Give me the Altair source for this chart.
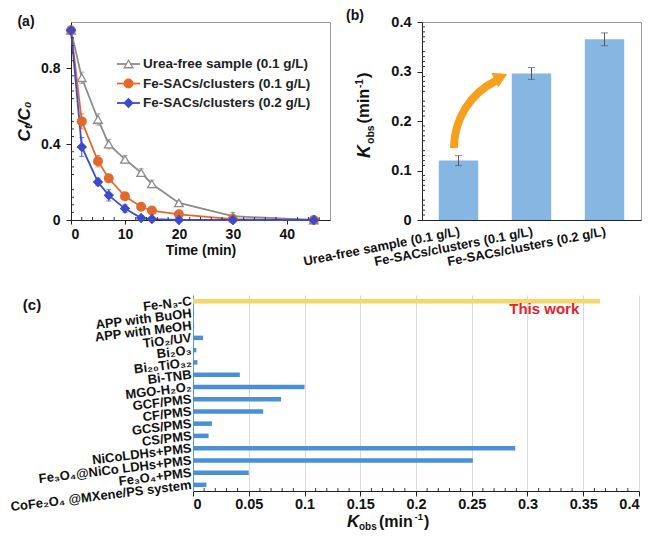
import altair as alt
import pandas as pd

FONT = "Liberation Sans"

# ---------------- data ----------------
# Panel (a): normalized concentration vs time
time_min = [0, 2, 5, 7, 10, 13, 15, 20, 30, 45]
series_names = ["Urea-free sample (0.1 g/L)", "Fe-SACs/clusters (0.1 g/L)", "Fe-SACs/clusters (0.2 g/L)"]
ct_urea = [1.0, 0.75, 0.53, 0.40, 0.32, 0.25, 0.19, 0.09, 0.02, 0.0]
ct_fe01 = [1.0, 0.52, 0.31, 0.22, 0.125, 0.07, 0.05, 0.03, 0.005, 0.0]
ct_fe02 = [1.0, 0.385, 0.20, 0.13, 0.06, 0.01, 0.005, 0.0, 0.0, 0.0]
err_urea = [0.01, 0.03, 0.03, 0.025, 0.02, 0.02, 0.02, 0.01, 0.02, 0.005]
err_fe01 = [0.01, 0.04, 0.03, 0.02, 0.02, 0.01, 0.01, 0.01, 0.005, 0.005]
err_fe02 = [0.01, 0.05, 0.02, 0.03, 0.02, 0.01, 0.005, 0.005, 0.005, 0.005]

# Panel (b): rate constants
kobs_samples = series_names
kobs_values = [0.12, 0.296, 0.365]
kobs_err = [0.01, 0.012, 0.013]

# Panel (c): comparison with literature
cmp_labels = ["Fe-N₃-C", "APP with BuOH", "APP with MeOH", "TiO₂/UV", "Bi₂O₃", "Bi₂₀TiO₃₂",
              "Bi-TNB", "MGO-H₂O₂", "GCF/PMS", "CF/PMS", "GCS/PMS", "CS/PMS",
              "NiCoLDHs+PMS", "Fe₃O₄@NiCo LDHs+PMS", "Fe₃O₄+PMS", "CoFe₂O₄ @MXene/PS system"]
cmp_values = [0.365, 0.001, 0.001, 0.009, 0.003, 0.004, 0.042, 0.1, 0.079, 0.063,
              0.017, 0.014, 0.289, 0.251, 0.05, 0.012]

# axis tick positions
a_x_ticks = [0, 10, 20, 30, 40]
a_y_ticks = [0, 0.2, 0.4, 0.6, 0.8, 1.0]
a_x_minor = [2, 4, 6, 8, 12, 14, 16, 18, 22, 24, 26, 28, 32, 34, 36, 38, 42, 44, 46]
a_y_minor = [0.04, 0.08, 0.12, 0.16, 0.24, 0.28, 0.32, 0.36, 0.44, 0.48, 0.52, 0.56,
             0.64, 0.68, 0.72, 0.76, 0.84, 0.88, 0.92, 0.96]
k_ticks = [0, 0.05, 0.1, 0.15, 0.2, 0.25, 0.3, 0.35, 0.4]
k_minor = [0.01, 0.02, 0.03, 0.04, 0.06, 0.07, 0.08, 0.09, 0.11, 0.12, 0.13, 0.14,
           0.16, 0.17, 0.18, 0.19, 0.21, 0.22, 0.23, 0.24, 0.26, 0.27, 0.28, 0.29,
           0.31, 0.32, 0.33, 0.34, 0.36, 0.37, 0.38, 0.39]

# colours / shapes
line_colors = ["#8c8c8c", "#e2692c", "#3a4ccc"]
fill_colors = ["#ffffff", "#e2692c", "#3a4ccc"]
shapes = ["triangle-up", "circle", "diamond"]
BAR_B = "#86b6e2"
BAR_C = "#4a8fd8"
YELLOW = "#f8d46c"
ARROW = "#f6a01e"

# ---------------- panel (a) ----------------
WA, HA = 259, 198
rows = []
for name, vals, errs in [(series_names[0], ct_urea, err_urea),
                         (series_names[1], ct_fe01, err_fe01),
                         (series_names[2], ct_fe02, err_fe02)]:
    for t, v, e in zip(time_min, vals, errs):
        rows.append({"series": name, "t": t, "c": v, "lo": max(v - e, 0), "hi": v + e})
df_a = pd.DataFrame(rows)

col_scale = alt.Scale(domain=series_names, range=line_colors)
fill_scale = alt.Scale(domain=series_names, range=fill_colors)
shape_scale = alt.Scale(domain=series_names, range=shapes)
xa_scale = alt.Scale(domain=[0, 48], nice=False)
ya_scale = alt.Scale(domain=[0, 1.044], nice=False)

xa = alt.X("t:Q", scale=xa_scale,
           axis=alt.Axis(values=a_x_ticks, title="Time (min)", grid=False, labelFontSize=14,
                         titleFontSize=14, tickSize=4, labelPadding=3, titlePadding=2,
                         labelOverlap=False))
ya = alt.Y("c:Q", scale=ya_scale,
           axis=alt.Axis(values=a_y_ticks, format="~g", title="Cₜ/C₀", titleFontStyle="italic",
                         titleFontSize=17, grid=False, labelFontSize=14, tickSize=5,
                         labelPadding=6, titlePadding=7, labelOverlap=False))

base_a = alt.Chart(df_a)
lines_a = base_a.mark_line(strokeWidth=1.8).encode(
    x=xa, y=ya, color=alt.Color("series:N", scale=col_scale, legend=None), detail="series:N")
err_a = base_a.mark_rule(strokeWidth=1).encode(
    x="t:Q", y="lo:Q", y2="hi:Q", color=alt.Color("series:N", scale=col_scale, legend=None))
cap_hi = base_a.mark_tick(orient="horizontal", size=5, thickness=1).encode(
    x="t:Q", y="hi:Q", color=alt.Color("series:N", scale=col_scale, legend=None))
cap_lo = base_a.mark_tick(orient="horizontal", size=5, thickness=1).encode(
    x="t:Q", y="lo:Q", color=alt.Color("series:N", scale=col_scale, legend=None))
pts_a = base_a.mark_point(size=75, strokeWidth=1.3, opacity=1).encode(
    x="t:Q", y="c:Q",
    color=alt.Color("series:N", scale=col_scale, legend=None),
    fill=alt.Fill("series:N", scale=fill_scale, legend=None),
    shape=alt.Shape("series:N", scale=shape_scale, legend=None))

# hand-drawn legend (line through marker), positioned inside the plot
leg_layers = []
for i, name in enumerate(series_names):
    yy = 42 + 19.5 * i
    one = alt.Chart(pd.DataFrame({"series": [name]}))
    leg_layers.append(one.mark_rule(strokeWidth=1.8, color=line_colors[i]).encode(
        x=alt.value(46), x2=alt.value(69), y=alt.value(yy)))
    leg_layers.append(one.mark_point(size=75, strokeWidth=1.3, opacity=1, shape=shapes[i],
                                     color=line_colors[i], fill=fill_colors[i]).encode(
        x=alt.value(57.5), y=alt.value(yy)))
    leg_layers.append(one.mark_text(font=FONT, fontSize=13.5, fontWeight="bold", color="#222",
                                    align="left", baseline="middle").encode(
        x=alt.value(72), y=alt.value(yy), text="series:N"))

minor_ax = alt.Chart(pd.DataFrame({"t": a_x_minor})).mark_rule(color="#333", strokeWidth=1).encode(
    x=alt.X("t:Q", axis=alt.Axis(labelOverlap=False)), y=alt.value(HA - 3), y2=alt.value(HA))
minor_ay = alt.Chart(pd.DataFrame({"c": a_y_minor})).mark_rule(color="#333", strokeWidth=1).encode(
    y=alt.Y("c:Q", axis=alt.Axis(labelOverlap=False)), x=alt.value(0), x2=alt.value(3))

label_a = alt.Chart(pd.DataFrame({"lab": ["(a)"]})).mark_text(
    font=FONT, fontSize=14, fontWeight="bold", color="#111", align="center", baseline="middle"
).encode(x=alt.value(-45), y=alt.value(0), text="lab:N")

chart_a = alt.layer(lines_a, err_a, cap_hi, cap_lo, pts_a, minor_ax, minor_ay, *leg_layers,
                    label_a).properties(
    width=WA, height=HA, view=alt.ViewBackground(stroke="#9a9a9a", strokeWidth=1))

# ---------------- panel (b) ----------------
WB, HB = 219, 198
df_b = pd.DataFrame({"sample": kobs_samples, "k": kobs_values, "err": kobs_err})
df_b["lo"] = df_b["k"] - df_b["err"]
df_b["hi"] = df_b["k"] + df_b["err"]

xb = alt.X("sample:N", sort=kobs_samples, scale=alt.Scale(paddingInner=0.46, paddingOuter=0.23),
           axis=alt.Axis(title=None, labelAngle=349, labelAlign="right", labelBaseline="top",
                         labelFontSize=13, ticks=False, labelPadding=5, labelLimit=0,
                         labelOverlap=False))
xb_plain = alt.X("sample:N", sort=kobs_samples)
yb = alt.Y("k:Q", scale=alt.Scale(domain=[0, 0.4], nice=False),
           axis=alt.Axis(values=k_ticks, format="~g", title=None, grid=False, labelFontSize=14.5,
                         tickSize=5, labelPadding=6, labelOverlap=False))
base_b = alt.Chart(df_b)
bars_b = base_b.mark_bar(color=BAR_B).encode(x=xb, y=yb)
err_b = base_b.mark_rule(color="#555", strokeWidth=1).encode(x=xb_plain, y="lo:Q", y2="hi:Q")
caphi_b = base_b.mark_tick(orient="horizontal", size=7, thickness=1, color="#555").encode(x=xb_plain, y="hi:Q")
caplo_b = base_b.mark_tick(orient="horizontal", size=7, thickness=1, color="#555").encode(x=xb_plain, y="lo:Q")
minor_by = alt.Chart(pd.DataFrame({"k": k_minor})).mark_rule(color="#333", strokeWidth=1).encode(
    y=alt.Y("k:Q", axis=alt.Axis(labelOverlap=False)), x=alt.value(0), x2=alt.value(3))

# curved decorative arrow (arc + head)
arrow_arc = alt.Chart(pd.DataFrame({"s": ["arrow"]})).mark_arc(
    theta=4.712, theta2=5.83, radius=79, radius2=71, color=ARROW
).encode(x=alt.value(107), y=alt.value(126))
arrow_head = alt.Chart(pd.DataFrame({"s": ["arrow"]})).mark_point(
    shape="triangle-up", filled=True, size=260, angle=64, color=ARROW, opacity=1
).encode(x=alt.value(79), y=alt.value(55))


def title_piece(txt, x, y, size, angle=None, italic=False):
    kw = dict(font=FONT, fontSize=size, fontWeight="bold", color="#111", align="left",
              baseline="alphabetic")
    if angle is not None:
        kw["angle"] = angle
    if italic:
        kw["fontStyle"] = "italic"
    return alt.Chart(pd.DataFrame({"s": [txt]})).mark_text(**kw).encode(
        x=alt.value(x), y=alt.value(y), text="s:N")


ktitle_b = [
    title_piece("K", -52, 136, 18, angle=270, italic=True),
    title_piece("obs", -48, 122, 10.5, angle=270),
    title_piece("(min", -53, 101.5, 16.5, angle=270),
    title_piece("-1", -59, 66, 10, angle=270),
    title_piece(")", -53, 56, 16.5, angle=270),
]
label_b = alt.Chart(pd.DataFrame({"lab": ["(b)"]})).mark_text(
    font=FONT, fontSize=14, fontWeight="bold", color="#111", align="center", baseline="middle"
).encode(x=alt.value(-67), y=alt.value(-6), text="lab:N")

chart_b = alt.layer(bars_b, err_b, caphi_b, caplo_b, minor_by, arrow_arc, arrow_head, label_b,
                    *ktitle_b).properties(
    width=WB, height=HB, view=alt.ViewBackground(stroke="#9a9a9a", strokeWidth=1))

# ---------------- panel (c) ----------------
WC, HC = 446, 196
df_c = pd.DataFrame({"system": cmp_labels, "k": cmp_values})
xc = alt.X("k:Q", scale=alt.Scale(domain=[0, 0.4], nice=False),
           axis=alt.Axis(values=k_ticks, format="~g", title=None, grid=True, gridColor="#d9d9d9",
                         labelFontSize=14.5, tickSize=5, labelPadding=1, labelFlush=True,
                         labelOverlap=False))
yc = alt.Y("system:N", sort=cmp_labels, scale=alt.Scale(paddingInner=0, paddingOuter=0),
           axis=alt.Axis(title=None, labelAngle=353, labelFontSize=13, ticks=False,
                         domainColor="#5b9bd5", labelPadding=2, labelLimit=0,
                         labelOverlap=False))
bars_c = alt.Chart(df_c).mark_bar(size=4.5).encode(
    x=xc, y=yc,
    color=alt.Color("system:N", scale=alt.Scale(domain=cmp_labels, range=[YELLOW] + [BAR_C] * 15),
                    legend=None))
minor_cx = alt.Chart(pd.DataFrame({"k": k_minor})).mark_rule(color="#333", strokeWidth=1).encode(
    x=alt.X("k:Q", axis=alt.Axis(labelOverlap=False)), y=alt.value(HC - 3), y2=alt.value(HC))
this_work = alt.Chart(pd.DataFrame({"system": ["Fe-N₃-C"], "k": [0.315], "s": ["This work"]})).mark_text(
    font=FONT, fontSize=15, fontWeight="bold", color="#e8202a", align="center", baseline="middle", dy=8
).encode(x="k:Q", y=alt.Y("system:N", sort=cmp_labels), text="s:N")
ktitle_c = [
    title_piece("K", 154, 232, 17, italic=True),
    title_piece("obs", 166, 235, 10),
    title_piece("(min", 186, 232, 16),
    title_piece("-1", 221.5, 225, 9.5),
    title_piece(")", 231, 232, 16),
]
label_c = alt.Chart(pd.DataFrame({"lab": ["(c)"]})).mark_text(
    font=FONT, fontSize=15, fontWeight="bold", color="#111", align="center", baseline="middle"
).encode(x=alt.value(-161), y=alt.value(10), text="lab:N")

chart_c = alt.layer(bars_c, minor_cx, this_work, label_c, *ktitle_c).properties(width=WC, height=HC)

# empty spacer so that panel (c) starts further right than panel (a)
spacer = alt.Chart(pd.DataFrame({"v": [0]})).mark_point(opacity=0).encode(
    x=alt.value(0), y=alt.value(0)).properties(width=122, height=HC)

top = alt.hconcat(chart_a, chart_b, spacing=92, bounds="flush")
bottom = alt.hconcat(spacer, chart_c, spacing=0, bounds="flush")
chart = alt.vconcat(top, bottom, spacing=22).resolve_scale(
    color="independent"
).properties(
    padding=0, background="white"
).configure_view(stroke="transparent").configure_axis(
    labelFont=FONT, titleFont=FONT, labelFontWeight="bold", titleFontWeight="bold",
    labelColor="#111", titleColor="#111", domainColor="#222", tickColor="#222",
    labelOverlap=False
)

chart.save("out.html", embed_options={"renderer": "svg", "actions": False})
